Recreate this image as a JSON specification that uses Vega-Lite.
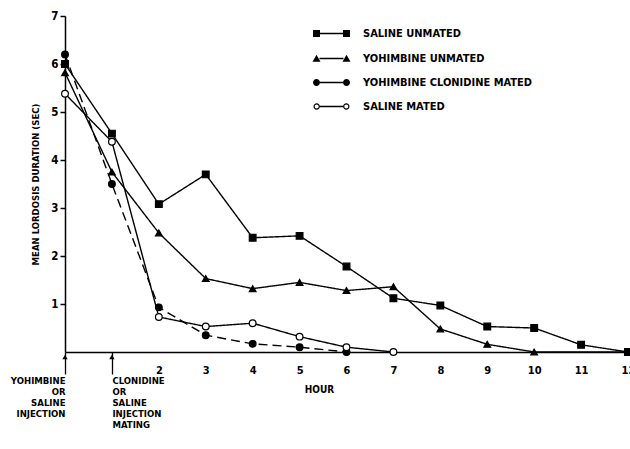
{
  "$schema": "https://vega.github.io/schema/vega-lite/v6.json",
  "width": 563,
  "height": 336,
  "autosize": {"type": "none"},
  "padding": {"left": 65, "top": 16, "right": 2, "bottom": 97},
  "background": "white",
  "config": {
    "view": {"stroke": null},
    "font": "Liberation Sans Narrow, DejaVu Sans Condensed, DejaVu Sans, sans-serif"
  },
  "data": {
    "values": [
      {"series": "SALINE UNMATED", "hour": 0, "value": 6.0},
      {"series": "SALINE UNMATED", "hour": 1, "value": 4.55},
      {"series": "SALINE UNMATED", "hour": 2, "value": 3.08},
      {"series": "SALINE UNMATED", "hour": 3, "value": 3.7},
      {"series": "SALINE UNMATED", "hour": 4, "value": 2.38},
      {"series": "SALINE UNMATED", "hour": 5, "value": 2.42},
      {"series": "SALINE UNMATED", "hour": 6, "value": 1.78},
      {"series": "SALINE UNMATED", "hour": 7, "value": 1.12},
      {"series": "SALINE UNMATED", "hour": 8, "value": 0.97},
      {"series": "SALINE UNMATED", "hour": 9, "value": 0.53},
      {"series": "SALINE UNMATED", "hour": 10, "value": 0.5},
      {"series": "SALINE UNMATED", "hour": 11, "value": 0.15},
      {"series": "SALINE UNMATED", "hour": 12, "value": 0},
      {"series": "YOHIMBINE UNMATED", "hour": 0, "value": 5.82},
      {"series": "YOHIMBINE UNMATED", "hour": 1, "value": 3.75},
      {"series": "YOHIMBINE UNMATED", "hour": 2, "value": 2.48},
      {"series": "YOHIMBINE UNMATED", "hour": 3, "value": 1.53},
      {"series": "YOHIMBINE UNMATED", "hour": 4, "value": 1.32},
      {"series": "YOHIMBINE UNMATED", "hour": 5, "value": 1.45},
      {"series": "YOHIMBINE UNMATED", "hour": 6, "value": 1.28},
      {"series": "YOHIMBINE UNMATED", "hour": 7, "value": 1.36},
      {"series": "YOHIMBINE UNMATED", "hour": 8, "value": 0.48},
      {"series": "YOHIMBINE UNMATED", "hour": 9, "value": 0.16},
      {"series": "YOHIMBINE UNMATED", "hour": 10, "value": 0},
      {"series": "YOHIMBINE UNMATED", "hour": 12, "value": 0},
      {"series": "YOHIMBINE CLONIDINE MATED", "hour": 0, "value": 6.2},
      {"series": "YOHIMBINE CLONIDINE MATED", "hour": 1, "value": 3.5},
      {"series": "YOHIMBINE CLONIDINE MATED", "hour": 2, "value": 0.93},
      {"series": "YOHIMBINE CLONIDINE MATED", "hour": 3, "value": 0.35},
      {"series": "YOHIMBINE CLONIDINE MATED", "hour": 4, "value": 0.17},
      {"series": "YOHIMBINE CLONIDINE MATED", "hour": 5, "value": 0.1},
      {"series": "YOHIMBINE CLONIDINE MATED", "hour": 6, "value": 0},
      {"series": "SALINE MATED", "hour": 0, "value": 5.38},
      {"series": "SALINE MATED", "hour": 1, "value": 4.38},
      {"series": "SALINE MATED", "hour": 2, "value": 0.73},
      {"series": "SALINE MATED", "hour": 3, "value": 0.53},
      {"series": "SALINE MATED", "hour": 4, "value": 0.6},
      {"series": "SALINE MATED", "hour": 5, "value": 0.32},
      {"series": "SALINE MATED", "hour": 6, "value": 0.1},
      {"series": "SALINE MATED", "hour": 7, "value": 0}
    ]
  },
  "encoding": {
    "x": {
      "field": "hour",
      "type": "quantitative",
      "scale": {"domain": [0, 12], "nice": false, "zero": false},
      "axis": {
        "title": "HOUR",
        "values": [0, 1, 2, 3, 4, 5, 6, 7, 8, 9, 10, 11, 12],
        "ticks": true,
        "tickSize": 22,
        "tickWidth": 1.3,
        "tickColor": "black",
        "tickOpacity": {"condition": {"test": "datum.value <= 1", "value": 1}, "value": 0},
        "grid": false,
        "domainColor": "black",
        "domainWidth": 1.5,
        "labelColor": "black",
        "labelFontWeight": "bold",
        "labelFontSize": {"condition": {"test": "datum.value <= 1", "value": 9.5}, "value": 11},
        "labelAlign": {"condition": [{"test": "datum.value == 0", "value": "right"}, {"test": "datum.value == 1", "value": "left"}], "value": "center"},
        "labelBaseline": {"condition": {"test": "datum.value <= 1", "value": "top"}, "value": "bottom"},
        "labelLineHeight": 11,
        "labelPadding": 1,
        "labelOverlap": false,
        "labelBound": false,
        "labelFlush": false,
        "labelExpr": "datum.value == 0 ? ['YOHIMBINE','OR','SALINE','INJECTION'] : datum.value == 1 ? ['CLONIDINE','OR','SALINE','INJECTION','\u00a0','MATING'] : datum.label",
        "titleColor": "black",
        "titleFontSize": 10,
        "titleFontWeight": "bold",
        "titleX": 254,
        "titleY": 37,
        "titleBaseline": "middle"
      }
    },
    "y": {
      "field": "value",
      "type": "quantitative",
      "scale": {"domain": [0, 7], "nice": false},
      "axis": {
        "title": "MEAN LORDOSIS DURATION (SEC)",
        "values": [1, 2, 3, 4, 5, 6, 7],
        "grid": false,
        "tickSize": 5,
        "tickColor": "black",
        "tickWidth": 1.5,
        "domainColor": "black",
        "domainWidth": 1.5,
        "labelColor": "black",
        "labelFontSize": 11.5,
        "labelFontWeight": "bold",
        "labelPadding": 2,
        "titleColor": "black",
        "titleFontSize": 9.5,
        "titleFontWeight": "bold",
        "titlePadding": 10
      }
    }
  },
  "layer": [
    {
      "mark": {"type": "line", "color": "black", "strokeWidth": 1.4},
      "encoding": {
        "detail": {"field": "series"},
        "strokeDash": {
          "condition": {"test": "datum.series === 'YOHIMBINE CLONIDINE MATED'", "value": [9, 5]},
          "value": [1, 0]
        }
      }
    },
    {
      "mark": {"type": "point", "filled": true, "size": 45, "stroke": "black", "strokeWidth": 1.2, "opacity": 1},
      "encoding": {
        "fill": {
          "condition": {"test": "datum.series === 'SALINE MATED'", "value": "white"},
          "value": "black"
        },
        "shape": {
          "condition": [
            {"test": "datum.series === 'SALINE UNMATED'", "value": "square"},
            {"test": "datum.series === 'YOHIMBINE UNMATED'", "value": "triangle-up"}
          ],
          "value": "circle"
        }
      }
    },
    {
      "mark": {"type": "point", "filled": true, "color": "black", "opacity": 0},
      "encoding": {
        "shape": {
          "field": "series",
          "type": "nominal",
          "scale": {
            "domain": ["SALINE UNMATED", "YOHIMBINE UNMATED", "YOHIMBINE CLONIDINE MATED", "SALINE MATED"],
            "range": [
              "M-9.25,-1.75H-5.75V1.75H-9.25Z M5.75,-1.75H9.25V1.75H5.75Z M-5.75,-0.35H5.75V0.35H-5.75Z",
              "M-9.5,1.6L-7.5,-1.9L-5.5,1.6Z M5.5,1.6L7.5,-1.9L9.5,1.6Z M-6,-0.35H6V0.35H-6Z",
              "M-5.75,0A1.75,1.75,0,1,1,-9.25,0A1.75,1.75,0,1,1,-5.75,0Z M9.25,0A1.75,1.75,0,1,1,5.75,0A1.75,1.75,0,1,1,9.25,0Z M-5.75,-0.35H5.75V0.35H-5.75Z",
              "M-5.8,0A1.6,1.6,0,1,1,-9,0A1.6,1.6,0,1,1,-5.8,0Z M-6.4,0A1,1,0,1,0,-8.4,0A1,1,0,1,0,-6.4,0Z M9,0A1.6,1.6,0,1,1,5.8,0A1.6,1.6,0,1,1,9,0Z M8.4,0A1,1,0,1,0,6.4,0A1,1,0,1,0,8.4,0Z M-5.8,-0.35H5.8V0.35H-5.8Z"
            ]
          },
          "legend": {
            "title": null,
            "orient": "none",
            "legendX": 261,
            "legendY": 12,
            "padding": 0,
            "symbolSize": 16,
            "symbolOpacity": 1,
            "labelFontSize": 11,
            "labelFontWeight": "bold",
            "labelColor": "black",
            "labelOffset": 26,
            "labelLimit": 0,
            "rowPadding": 11
          }
        }
      }
    },
    {
      "data": {"values": [{"hour": 0, "value": 0, "event": "YOHIMBINE OR SALINE INJECTION"}, {"hour": 1, "value": 0, "event": "CLONIDINE OR SALINE INJECTION, MATING"}]},
      "mark": {"type": "point", "filled": true, "size": 28, "shape": "triangle-up", "color": "black", "opacity": 1, "yOffset": 5}
    }
  ]
}
